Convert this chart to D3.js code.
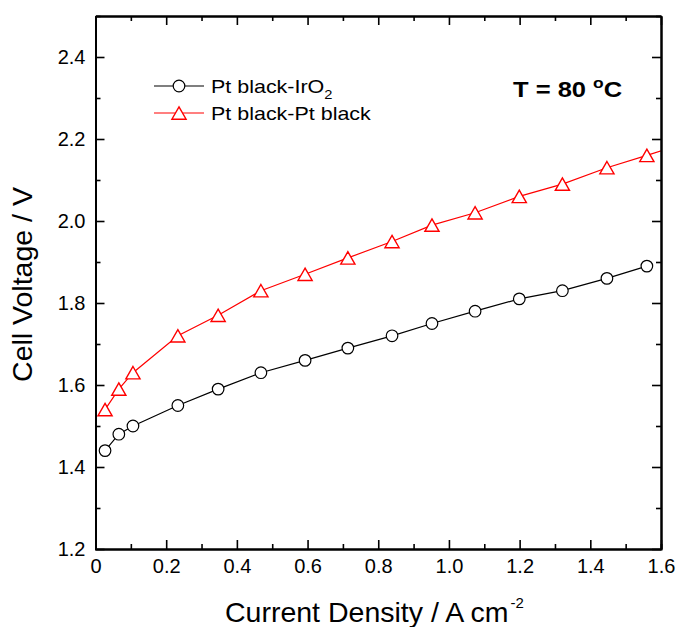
<!DOCTYPE html>
<html>
<head>
<meta charset="utf-8">
<script src="https://cdn.jsdelivr.net/npm/d3@7"></script>
<style>
  body { margin: 0; background: #fff; }
  svg { font-family: Arial, 'Liberation Sans', sans-serif; }
</style>
</head>
<body>
<div id="chart"></div>
<script>
// current density (A cm-2)
const irXs = [0.027, 0.066, 0.106, 0.233, 0.347, 0.468, 0.593, 0.714, 0.839, 0.952, 1.074, 1.199, 1.321, 1.447, 1.56]
const irVolts = [1.44, 1.48, 1.50, 1.55, 1.59, 1.63, 1.66, 1.69, 1.72, 1.75, 1.78, 1.81, 1.83, 1.86, 1.89]
// last point sits past the axis, only its line stub shows
const ptXs = [0.027, 0.066, 0.106, 0.233, 0.347, 0.468, 0.593, 0.714, 0.839, 0.952, 1.074, 1.199, 1.321, 1.447, 1.56, 1.69]
const ptVolts = [1.54, 1.59, 1.63, 1.72, 1.77, 1.83, 1.87, 1.91, 1.95, 1.99, 2.02, 2.06, 2.09, 2.13, 2.16, 2.195]

const xTicks = [0, 0.2, 0.4, 0.6, 0.8, 1.0, 1.2, 1.4, 1.6]
const xTickLabels = ['0', '0.2', '0.4', '0.6', '0.8', '1.0', '1.2', '1.4', '1.6']
const xMinor = [0.1, 0.3, 0.5, 0.7, 0.9, 1.1, 1.3, 1.5]
const yTicks = [1.2, 1.4, 1.6, 1.8, 2.0, 2.2, 2.4]
const yMinor = [1.3, 1.5, 1.7, 1.9, 2.1, 2.3, 2.5]

const margin = { top: 16, right: 15, bottom: 78, left: 95.5 }
const width = 676 - margin.left - margin.right
const height = 627 - margin.top - margin.bottom

const svg = d3.select('#chart')
  .append('svg')
  .attr('width', 676)
  .attr('height', 627)

const g = svg.append('g')
  .attr('transform', `translate(${margin.left},${margin.top})`)

const x = d3.scaleLinear().domain([0, 1.6]).range([0, width])
const y = d3.scaleLinear().domain([1.2, 2.5]).range([height, 0])

g.append('clipPath')
  .attr('id', 'plot-clip')
  .append('rect')
  .attr('width', width)
  .attr('height', height)

const plot = g.append('g').attr('clip-path', 'url(#plot-clip)')

const series = [
  { xs: irXs, ys: irVolts, color: '#000', marker: 'circle' },
  { xs: ptXs, ys: ptVolts, color: '#ff0000', marker: 'triangle' }
]

const line = d3.line().x(d => x(d[0])).y(d => y(d[1]))
const triPath = 'M0,-6.2L7.1,6.2L-7.1,6.2Z'

series.forEach(s => {
  const pts = s.xs.map((v, i) => [v, s.ys[i]])
  plot.append('path')
    .datum(pts)
    .attr('fill', 'none')
    .attr('stroke', s.color)
    .attr('stroke-width', 1.2)
    .attr('d', line)

  if (s.marker === 'circle') {
    plot.selectAll(null)
      .data(pts)
      .join('circle')
      .attr('cx', d => x(d[0]))
      .attr('cy', d => y(d[1]))
      .attr('r', 5.8)
      .attr('fill', '#fff')
      .attr('stroke', s.color)
      .attr('stroke-width', 1.2)
  } else {
    plot.selectAll(null)
      .data(pts)
      .join('path')
      .attr('d', triPath)
      .attr('transform', d => `translate(${x(d[0])},${y(d[1])})`)
      .attr('fill', '#fff')
      .attr('stroke', s.color)
      .attr('stroke-width', 1.4)
  }
})

// axes, ticks pointing inward on all four sides
const axisStyle = sel => {
  sel.select('.domain').attr('stroke-width', 2).attr('stroke', '#000')
  sel.selectAll('.tick line').attr('stroke-width', 1.6).attr('stroke', '#000')
  sel.selectAll('text').attr('font-size', 20).attr('fill', '#000')
}

g.append('g')
  .attr('transform', `translate(0,${height})`)
  .call(d3.axisBottom(x).tickValues(xTicks).tickSize(-9).tickSizeOuter(0)
    .tickPadding(10).tickFormat((d, i) => xTickLabels[i]))
  .call(axisStyle)

g.append('g')
  .attr('transform', `translate(0,${height})`)
  .call(d3.axisBottom(x).tickValues(xMinor).tickSize(-5).tickFormat(''))
  .call(axisStyle)

g.append('g')
  .call(d3.axisTop(x).tickValues(xTicks).tickSize(-9).tickSizeOuter(0).tickFormat(''))
  .call(axisStyle)
g.append('g')
  .call(d3.axisTop(x).tickValues(xMinor).tickSize(-5).tickSizeOuter(0).tickFormat(''))
  .call(axisStyle)

g.append('g')
  .call(d3.axisLeft(y).tickValues(yTicks).tickSize(-9).tickSizeOuter(0)
    .tickPadding(10).tickFormat(d3.format('.1f')))
  .call(axisStyle)
g.append('g')
  .call(d3.axisLeft(y).tickValues(yMinor).tickSize(-5).tickSizeOuter(0).tickFormat(''))
  .call(axisStyle)

g.append('g')
  .attr('transform', `translate(${width},0)`)
  .call(d3.axisRight(y).tickValues(yTicks).tickSize(-9).tickSizeOuter(0).tickFormat(''))
  .call(axisStyle)
g.append('g')
  .attr('transform', `translate(${width},0)`)
  .call(d3.axisRight(y).tickValues(yMinor).tickSize(-5).tickSizeOuter(0).tickFormat(''))
  .call(axisStyle)

// axis titles
svg.append('text')
  .attr('x', 225)
  .attr('y', 622)
  .attr('font-size', 28.5)
  .text('Current Density / A cm')
  .append('tspan')
  .attr('dx', 2)
  .attr('dy', -14)
  .attr('font-size', 15)
  .text('-2')

svg.append('text')
  .attr('transform', `translate(32,${margin.top + height / 2 + 2}) rotate(-90)`)
  .attr('text-anchor', 'middle')
  .attr('font-size', 28.5)
  .text('Cell Voltage / V')

// legend
const legend = svg.append('g')
const legendRows = [
  { label: 'Pt black-IrO', sub: '2', s: series[0], ly: 86 },
  { label: 'Pt black-Pt black', sub: null, s: series[1], ly: 113 }
]
legendRows.forEach(r => {
  legend.append('line')
    .attr('x1', 154).attr('x2', 204)
    .attr('y1', r.ly).attr('y2', r.ly)
    .attr('stroke', r.s.color)
    .attr('stroke-width', 1.2)
  if (r.s.marker === 'circle') {
    legend.append('circle')
      .attr('cx', 179).attr('cy', r.ly).attr('r', 5.8)
      .attr('fill', '#fff').attr('stroke', r.s.color).attr('stroke-width', 1.2)
  } else {
    legend.append('path')
      .attr('d', triPath)
      .attr('transform', `translate(179,${r.ly})`)
      .attr('fill', '#fff').attr('stroke', r.s.color).attr('stroke-width', 1.4)
  }
  const t = legend.append('text')
    .attr('transform', `translate(211,${r.ly + 6.5}) scale(1.13,1)`)
    .attr('font-size', 19)
    .text(r.label)
  if (r.sub) {
    t.append('tspan').attr('dy', 6).attr('font-size', 13).text(r.sub)
  }
})

// temperature note
svg.append('text')
  .attr('transform', 'translate(513,97) scale(1.16,1)')
  .attr('font-size', 22)
  .attr('font-weight', 'bold')
  .text('T = 80 ')
  .call(t => t.append('tspan').attr('dy', -9).attr('font-size', 15).text('o'))
  .call(t => t.append('tspan').attr('dy', 9).text('C'))
</script>
</body>
</html>
